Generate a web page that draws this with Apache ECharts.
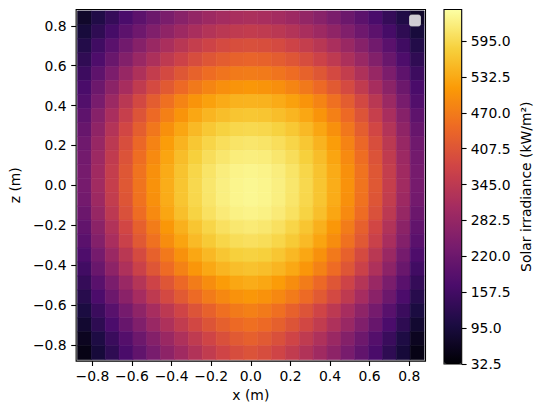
<!DOCTYPE html>
<html>
<head>
<meta charset="utf-8">
<script src="https://cdn.jsdelivr.net/npm/echarts@6/dist/echarts.min.js"></script>
<style>
  html, body { margin: 0; padding: 0; background: #ffffff; }
  #chart { width: 537px; height: 407px; }
</style>
</head>
<body>
<div id="chart"></div>
<script>
// Receiver plane sample positions (m): cell centres along x and z (top row first)
const xCenters = [-0.84, -0.77, -0.70, -0.63, -0.56, -0.49, -0.42, -0.35, -0.28, -0.21, -0.14, -0.07, 0.00,
                  0.07, 0.14, 0.21, 0.28, 0.35, 0.42, 0.49, 0.56, 0.63, 0.70, 0.77, 0.84];
const zCenters = [0.84, 0.77, 0.70, 0.63, 0.56, 0.49, 0.42, 0.35, 0.28, 0.21, 0.14, 0.07, 0.00,
                  -0.07, -0.14, -0.21, -0.28, -0.35, -0.42, -0.49, -0.56, -0.63, -0.70, -0.77, -0.84];

// Solar irradiance (kW/m^2), one row per z position, columns follow xCenters
const irradiance = [
  [76,109,140,169,196,220,242,262,280,294,305,313,317,313,305,294,280,262,242,220,196,169,140,109,76],
  [94,130,163,195,223,250,274,295,314,329,341,350,354,350,341,329,314,295,274,250,223,195,163,130,94],
  [113,154,192,228,260,289,315,338,358,373,386,394,397,394,386,373,358,338,315,289,260,228,192,154,113],
  [131,175,216,254,288,319,347,371,392,409,422,431,434,431,422,409,392,371,347,319,288,254,216,175,131],
  [150,199,244,285,322,356,385,410,431,448,460,468,471,468,460,448,431,410,385,356,322,285,244,199,150],
  [168,220,268,311,351,386,417,444,466,484,497,505,508,505,497,484,466,444,417,386,351,311,268,220,168],
  [181,239,292,340,383,421,454,482,505,522,535,543,545,543,535,522,505,482,454,421,383,340,292,239,181],
  [199,259,313,361,405,444,477,505,529,547,559,567,570,567,559,547,529,505,477,444,405,361,313,259,199],
  [212,273,329,379,424,464,499,528,552,571,584,592,594,592,584,571,552,528,499,464,424,379,329,273,212],
  [224,286,343,394,440,481,516,545,570,589,602,610,613,610,602,589,570,545,516,481,440,394,343,286,224],
  [230,293,351,403,450,491,527,557,581,601,614,623,625,623,614,601,581,557,527,491,450,403,351,293,230],
  [236,300,358,411,458,499,535,565,590,610,624,632,635,632,624,610,590,565,535,499,458,411,358,300,236],
  [236,301,359,412,460,501,537,568,593,613,627,635,638,635,627,613,593,568,537,501,460,412,359,301,236],
  [230,295,355,408,457,499,536,567,592,612,626,635,638,635,626,612,592,567,536,499,457,408,355,295,230],
  [218,284,344,399,448,491,528,560,586,606,620,629,632,629,620,606,586,560,528,491,448,399,344,284,218],
  [205,268,326,380,428,471,508,541,568,589,605,615,619,615,605,589,568,541,508,471,428,380,326,268,205],
  [193,255,313,366,414,456,494,526,553,574,590,600,604,600,590,574,553,526,494,456,414,366,313,255,193],
  [175,234,290,340,387,430,467,500,529,551,569,581,585,581,569,551,529,500,467,430,387,340,290,234,175],
  [156,215,270,321,367,409,447,479,507,530,547,559,564,559,547,530,507,479,447,409,367,321,270,215,156],
  [138,191,241,288,332,372,409,442,471,495,515,529,536,529,515,495,471,442,409,372,332,288,241,191,138],
  [119,171,220,266,308,348,384,416,445,469,488,502,508,502,488,469,445,416,384,348,308,266,220,171,119],
  [100,147,190,233,272,310,344,376,405,430,452,468,477,468,452,430,405,376,344,310,272,233,190,147,100],
  [82,128,170,212,251,288,321,353,381,406,427,444,452,444,427,406,381,353,321,288,251,212,170,128,82],
  [63,105,145,184,221,257,290,321,349,375,398,416,428,416,398,375,349,321,290,257,221,184,145,105,63],
  [51,92,130,168,203,238,270,300,327,352,375,392,403,392,375,352,327,300,270,238,203,168,130,92,51]
];

// Axis ticks and colour bar ticks
const xTicks = [-0.8, -0.6, -0.4, -0.2, 0.0, 0.2, 0.4, 0.6, 0.8];
const zTicks = [-0.8, -0.6, -0.4, -0.2, 0.0, 0.2, 0.4, 0.6, 0.8];
const colorTicks = [32.5, 95.0, 157.5, 220.0, 282.5, 345.0, 407.5, 470.0, 532.5, 595.0];
const colorRange = [32.5, 650];
const axisRange = [-0.882, 0.882];

// inferno colour map
const inferno = ['#000004', '#1b0c42', '#4b0c6b', '#781c6d', '#a52c60',
                 '#cf4446', '#ed6925', '#fb9a06', '#f7d03c', '#fcffa4'];

const cells = [];
zCenters.forEach((z, i) => {
  xCenters.forEach((x, j) => cells.push([x, z, irradiance[i][j]]));
});
const halfW = Math.abs(xCenters[1] - xCenters[0]) / 2;
const halfH = Math.abs(zCenters[0] - zCenters[1]) / 2;

const FONT = 'DejaVu Sans';
const FS = 13.9;
const signed = v => (v < 0 ? '\u2212' : '') + Math.abs(v).toFixed(1);

const chart = echarts.init(document.getElementById('chart'), null, { renderer: 'svg' });

chart.setOption({
  animation: false,
  backgroundColor: '#ffffff',
  textStyle: { fontFamily: FONT },
  grid: [
    { left: 69.5, top: 9.5, width: 356, height: 354.5, show: true,
      borderColor: '#000000', borderWidth: 1.1, backgroundColor: 'transparent' },
    { left: 444, top: 9.5, width: 17.7, height: 354.5, show: false }
  ],
  xAxis: [
    {
      gridIndex: 0, type: 'value', min: axisRange[0], max: axisRange[1],
      name: 'x (m)', nameLocation: 'middle', nameGap: 25,
      nameTextStyle: { color: '#000', fontSize: FS, fontFamily: FONT },
      axisLine: { show: false, onZero: false },
      splitLine: { show: false },
      axisTick: { show: true, customValues: xTicks, length: 4.9, lineStyle: { color: '#000', width: 1.1 } },
      axisLabel: { customValues: xTicks, formatter: signed, color: '#000', fontSize: FS, fontFamily: FONT, margin: 8 }
    },
    { gridIndex: 1, type: 'value', show: false, min: 0, max: 1 }
  ],
  yAxis: [
    {
      gridIndex: 0, type: 'value', min: axisRange[0], max: axisRange[1],
      name: 'z (m)', nameLocation: 'middle', nameGap: 49, nameRotate: 90,
      nameTextStyle: { color: '#000', fontSize: FS, fontFamily: FONT },
      axisLine: { show: false, onZero: false },
      splitLine: { show: false },
      axisTick: { show: true, customValues: zTicks, length: 4.9, lineStyle: { color: '#000', width: 1.1 } },
      axisLabel: { customValues: zTicks, formatter: signed, color: '#000', fontSize: FS, fontFamily: FONT, margin: 9.5 }
    },
    {
      gridIndex: 1, type: 'value', position: 'right', min: colorRange[0], max: colorRange[1],
      name: 'Solar irradiance (kW/m\u00b2)', nameLocation: 'middle', nameGap: 57, nameRotate: 90,
      nameTextStyle: { color: '#000', fontSize: FS, fontFamily: FONT },
      axisLine: { show: false, onZero: false },
      splitLine: { show: false },
      axisTick: { show: true, customValues: colorTicks, length: 4.9, lineStyle: { color: '#000', width: 1.1 } },
      axisLabel: { customValues: colorTicks, formatter: v => v.toFixed(1), color: '#000', fontSize: FS, fontFamily: FONT, margin: 9 }
    }
  ],
  visualMap: {
    type: 'continuous', seriesIndex: 0, dimension: 2,
    min: colorRange[0], max: colorRange[1],
    inRange: { color: inferno },
    calculable: false, hoverLink: false, showLabel: false,
    orient: 'vertical', left: 444, top: 9.5, padding: 0,
    itemWidth: 17.7, itemHeight: 354.5
  },
  graphic: [
    { type: 'rect', z: 100, silent: true,
      shape: { x: 444, y: 9.5, width: 17.7, height: 354.5 },
      style: { fill: 'none', stroke: '#000000', lineWidth: 1.1 } },
    { type: 'rect', z: 100, silent: true,
      shape: { x: 409.5, y: 15, width: 11, height: 11, r: 2 },
      style: { fill: 'rgba(255,255,255,0.8)', stroke: 'rgba(204,204,204,0.8)', lineWidth: 1 } }
  ],
  series: [{
    type: 'custom',
    xAxisIndex: 0, yAxisIndex: 0,
    silent: true,
    encode: { x: 0, y: 1 },
    data: cells,
    renderItem: (params, api) => {
      const x = api.value(0), z = api.value(1);
      const p0 = api.coord([x - halfW, z + halfH]);
      const p1 = api.coord([x + halfW, z - halfH]);
      const c = api.visual('color');
      return {
        type: 'rect',
        shape: { x: p0[0], y: p0[1], width: p1[0] - p0[0], height: p1[1] - p0[1] },
        style: { fill: c, stroke: c, lineWidth: 0.6 }
      };
    }
  }]
});
</script>
</body>
</html>
